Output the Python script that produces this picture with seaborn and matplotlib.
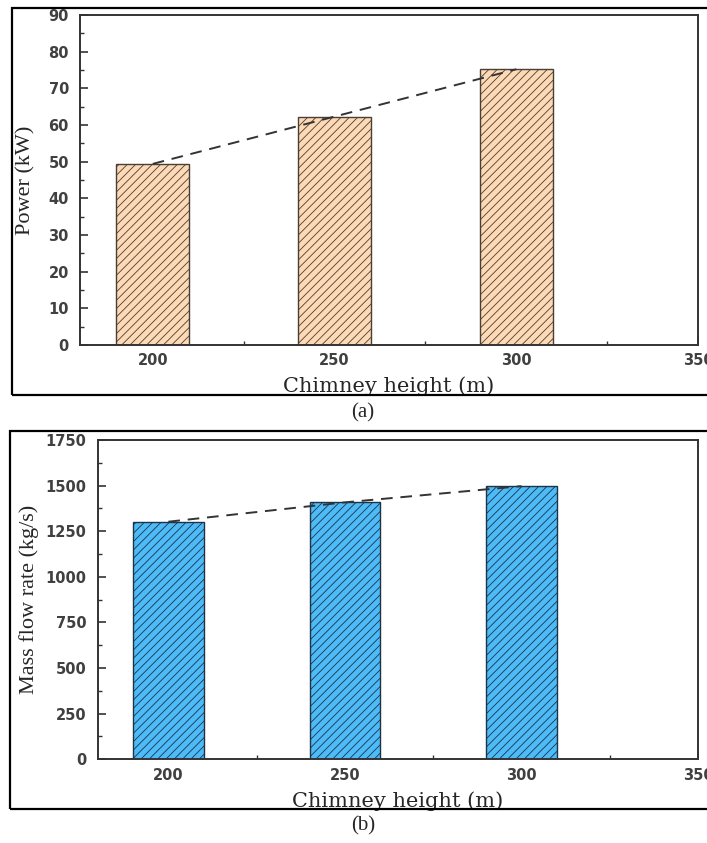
import seaborn as sns
import matplotlib.pyplot as plt
from matplotlib.patches import Rectangle
from matplotlib.ticker import MultipleLocator

# chimney heights (m) and results
heights = [200, 250, 300]
power = [49.4, 62.3, 75.2]
mass_flow = [1302, 1408, 1497]

x_ticks = [200, 250, 300, 350]
power_ticks = list(range(0, 91, 10))
flow_ticks = list(range(0, 1751, 250))

sns.set_style("ticks")
plt.rcParams["hatch.linewidth"] = 0.6
plt.rcParams["xtick.direction"] = "in"
plt.rcParams["ytick.direction"] = "in"

fig = plt.figure(figsize=(7.07, 8.43), dpi=100)
ax1 = fig.add_axes([0.1132, 0.5907, 0.8741, 0.3915])
ax2 = fig.add_axes([0.1382, 0.0993, 0.8491, 0.3788])


def panel(ax, values, fill, edge, yticks, ymax, ylabel, minor):
    sns.barplot(x=heights, y=values, native_scale=True, width=0.4, color=fill,
                edgecolor=edge, linewidth=1.0, hatch="////", errorbar=None,
                saturation=1, ax=ax)
    sns.lineplot(x=heights, y=values, color="#333333", linewidth=1.4,
                 linestyle=(0, (6, 4)), ax=ax)
    ax.set_xlim(180, 350)
    ax.set_ylim(0, ymax)
    ax.set_xticks(x_ticks)
    ax.set_yticks(yticks)
    ax.xaxis.set_minor_locator(MultipleLocator(25))
    ax.yaxis.set_minor_locator(MultipleLocator(minor))
    ax.tick_params(which="major", length=6, width=1.2, color="#333333",
                   labelsize=10.5, labelcolor="#404040")
    ax.tick_params(which="minor", length=3, width=1.0, color="#333333")
    ax.tick_params(axis="y", pad=8)
    ax.tick_params(axis="x", pad=6)
    for lab in ax.get_xticklabels() + ax.get_yticklabels():
        lab.set_fontweight("bold")
    for sp in ax.spines.values():
        sp.set_visible(True)
        sp.set_linewidth(1.4)
        sp.set_color("#333333")
    ax.set_xlabel("Chimney height (m)", family="DejaVu Serif", fontsize=15,
                  labelpad=6)
    ax.set_ylabel(ylabel, family="Liberation Serif", fontsize=16)


panel(ax1, power, "#fdd9b5", "#4a3f35", power_ticks, 90, "Power (kW)", 5)
panel(ax2, mass_flow, "#4cbbf8", "#1f3347", flow_ticks, 1750,
      "Mass flow rate (kg/s)", 125)
ax1.yaxis.set_label_coords(-0.072, 0.5)
ax2.yaxis.set_label_coords(-0.097, 0.5)

# frames around each sub-figure
fig.add_artist(Rectangle((0.017, 0.5314), 1.05, 0.4591, transform=fig.transFigure,
                         fill=False, edgecolor="black", linewidth=1.6, clip_on=False))
fig.add_artist(Rectangle((0.014, 0.0403), 1.05, 0.4484, transform=fig.transFigure,
                         fill=False, edgecolor="black", linewidth=1.6, clip_on=False))

fig.text(0.513, 1 - 413 / 843, "(a)", ha="center", va="center",
         family="Liberation Serif", fontsize=15)
fig.text(0.513, 1 - 826 / 843, "(b)", ha="center", va="center",
         family="Liberation Serif", fontsize=15)

plt.savefig("out.png", dpi=100)
